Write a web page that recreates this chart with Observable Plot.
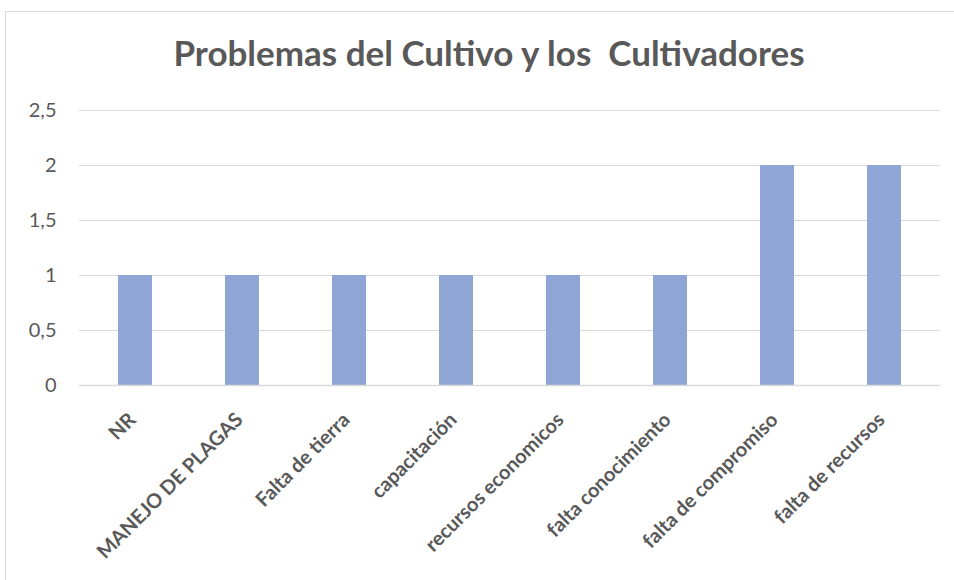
<!DOCTYPE html>
<html>
<head>
<meta charset="utf-8">
<script src="https://cdn.jsdelivr.net/npm/d3@7"></script>
<script src="https://cdn.jsdelivr.net/npm/@observablehq/plot@0.6"></script>
<style>
  html, body { margin: 0; padding: 0; background: #fff; }
  #wrap { position: relative; width: 954px; height: 580px; overflow: hidden; }
  #frame { position: absolute; left: 5px; top: 11px; width: 1000px; height: 700px; border: 1px solid #d9d9d9; box-sizing: border-box; }
  #title { position: absolute; left: 12px; width: 954px; top: 31px; text-align: center; font-family: Lato, "Open Sans", sans-serif; font-weight: bold; font-size: 35px; color: #595959; white-space: pre; }
  #chart { position: absolute; left: 0; top: 0; }
</style>
</head>
<body>
<div id="wrap">
  <div id="frame"></div>
  <div id="title">Problemas del Cultivo y los  Cultivadores</div>
  <div id="chart"></div>
</div>
<script>
const categories = ["NR", "MANEJO DE PLAGAS", "Falta de tierra", "capacitación", "recursos economicos", "falta conocimiento", "falta de compromiso", "falta de recursos"];
const values = [1, 1, 1, 1, 1, 1, 2, 2];
const yTicks = [0, 0.5, 1, 1.5, 2, 2.5];

const data = categories.map((c, i) => ({category: c, value: values[i]}));
const fmt = d => String(d).replace(".", ",");

const chart = Plot.plot({
  width: 954,
  height: 580,
  marginTop: 110,
  marginBottom: 195,
  marginLeft: 79,
  marginRight: 14,
  style: {fontFamily: "Lato, 'Open Sans', sans-serif", color: "#595959", background: "transparent"},
  x: {domain: categories, paddingInner: 0.685, paddingOuter: 0.3425, label: null},
  y: {domain: [0, 2.5], label: null},
  marks: [
    Plot.gridY(yTicks, {stroke: "#d9d9d9", strokeOpacity: 1, strokeWidth: 1}),
    Plot.barY(data, {x: "category", y: "value", fill: "#8FA5D6"}),
    Plot.ruleY([0], {stroke: "#d9d9d9", strokeWidth: 1.5}),
    Plot.axisY(yTicks, {tickFormat: fmt, tickSize: 0, tickPadding: 23, fontSize: 20, fill: "#595959"}),
    Plot.axisX({tickSize: 0, tickRotate: -45, tickPadding: 31, fontSize: 20, fontWeight: "bold", fill: "#595959", dx: -3})
  ]
});
document.getElementById("chart").appendChild(chart);
</script>
</body>
</html>
